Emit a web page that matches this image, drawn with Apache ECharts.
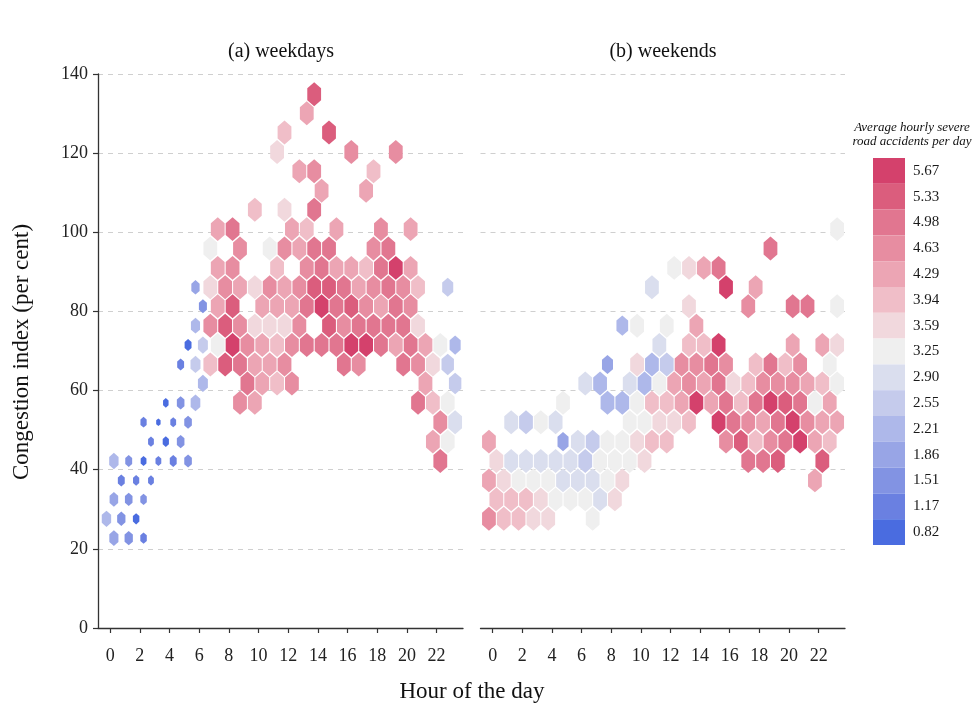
<!DOCTYPE html>
<html>
<head>
<meta charset="utf-8">
<script src="https://cdn.jsdelivr.net/npm/echarts@6/dist/echarts.min.js"></script>
<style>
  html, body { margin: 0; padding: 0; background: #fff; }
  #chart { width: 976px; height: 708px; }
</style>
</head>
<body>
<div id="chart"></div>
<script>
// Hour-of-day tick labels and congestion-index ticks
const hourTicks = [0, 2, 4, 6, 8, 10, 12, 14, 16, 18, 20, 22];
const indexTicks = [0, 20, 40, 60, 80, 100, 120, 140];

// Legend levels (average hourly severe road accidents per day), low to high
const accidentLevels = [0.82, 1.17, 1.51, 1.86, 2.21, 2.55, 2.90, 3.25, 3.59, 3.94, 4.29, 4.63, 4.98, 5.33, 5.67];
const levelColors = ['#4a6ce0', '#6a80e1', '#8293e3', '#98a5e6', '#aeb8ea', '#c5cbec', '#dadeee', '#efefef',
                     '#f1d8dd', '#f0bec8', '#eca5b4', '#e78da1', '#e17690', '#db5d7d', '#d4416c'];

// Vertical spacing of the hexagon rows, in congestion-index units
const rowStep = 4.88;

// Weekday bins: [hour, congestion index, accidents, relative bin size]
const weekdayBins = [
  [0.25, 22.7, 1.86, 0.66], [1.25, 22.7, 1.51, 0.6], [2.25, 22.7, 1.17, 0.47],
  [-0.25, 27.6, 2.21, 0.68], [0.75, 27.6, 1.51, 0.6], [1.75, 27.6, 0.82, 0.47],
  [0.25, 32.5, 1.86, 0.62], [1.25, 32.5, 1.51, 0.55], [2.25, 32.5, 1.51, 0.47],
  [0.75, 37.3, 1.17, 0.5], [1.75, 37.3, 1.17, 0.45], [2.75, 37.3, 1.17, 0.42],
  [0.25, 42.2, 2.21, 0.68], [1.25, 42.2, 1.51, 0.5], [2.25, 42.2, 0.82, 0.42], [3.25, 42.2, 1.17, 0.42],
  [4.25, 42.2, 1.17, 0.5], [5.25, 42.2, 1.51, 0.55], [22.25, 42.2, 4.98, 1],
  [2.75, 47.1, 1.17, 0.42], [3.75, 47.1, 0.82, 0.45], [4.75, 47.1, 1.51, 0.55],
  [21.75, 47.1, 4.29, 1], [22.75, 47.1, 3.25, 1],
  [2.25, 52.0, 1.17, 0.45], [3.25, 52.0, 0.82, 0.32], [4.25, 52.0, 1.17, 0.42], [5.25, 52.0, 1.51, 0.55],
  [22.25, 52.0, 4.63, 1], [23.25, 52.0, 2.90, 1],
  [3.75, 56.9, 0.82, 0.4], [4.75, 56.9, 1.51, 0.55], [5.75, 56.9, 2.21, 0.7],
  [8.75, 56.9, 4.63, 1], [9.75, 56.9, 4.29, 1], [20.75, 56.9, 4.98, 1], [21.75, 56.9, 3.94, 1], [22.75, 56.9, 3.25, 1],
  [6.25, 61.8, 2.21, 0.72], [9.25, 61.8, 4.98, 1], [10.25, 61.8, 4.29, 1], [11.25, 61.8, 3.94, 1],
  [12.25, 61.8, 4.63, 1], [21.25, 61.8, 4.29, 1], [23.25, 61.8, 2.55, 0.9],
  [4.75, 66.6, 1.17, 0.5], [5.75, 66.6, 2.55, 0.72], [6.75, 66.6, 3.94, 1], [7.75, 66.6, 5.33, 1],
  [8.75, 66.6, 4.98, 1], [9.75, 66.6, 4.29, 1], [10.75, 66.6, 4.29, 1], [11.75, 66.6, 4.63, 1],
  [15.75, 66.6, 4.98, 1], [16.75, 66.6, 4.63, 1], [19.75, 66.6, 4.98, 1], [20.75, 66.6, 4.63, 1],
  [21.75, 66.6, 3.59, 1], [22.75, 66.6, 2.55, 0.9],
  [5.25, 71.5, 0.82, 0.5], [6.25, 71.5, 2.55, 0.72], [7.25, 71.5, 3.25, 1], [8.25, 71.5, 5.67, 1],
  [9.25, 71.5, 4.63, 1], [10.25, 71.5, 4.29, 1], [11.25, 71.5, 3.94, 1], [12.25, 71.5, 4.63, 1],
  [13.25, 71.5, 4.98, 1], [14.25, 71.5, 4.98, 1], [15.25, 71.5, 4.98, 1], [16.25, 71.5, 5.67, 1],
  [17.25, 71.5, 5.67, 1], [18.25, 71.5, 4.98, 1], [19.25, 71.5, 4.29, 1], [20.25, 71.5, 4.98, 1],
  [21.25, 71.5, 4.29, 1], [22.25, 71.5, 3.25, 1], [23.25, 71.5, 2.21, 0.8],
  [5.75, 76.4, 2.21, 0.66], [6.75, 76.4, 4.63, 1], [7.75, 76.4, 5.33, 1], [8.75, 76.4, 4.63, 1],
  [9.75, 76.4, 3.59, 1], [10.75, 76.4, 3.59, 1], [11.75, 76.4, 3.59, 1], [12.75, 76.4, 4.63, 1],
  [14.75, 76.4, 5.33, 1], [15.75, 76.4, 4.63, 1], [16.75, 76.4, 4.98, 1], [17.75, 76.4, 4.98, 1],
  [18.75, 76.4, 4.98, 1], [19.75, 76.4, 4.98, 1], [20.75, 76.4, 3.59, 1],
  [6.25, 81.3, 1.51, 0.58], [7.25, 81.3, 4.29, 1], [8.25, 81.3, 5.33, 1], [10.25, 81.3, 4.29, 1],
  [11.25, 81.3, 4.29, 1], [12.25, 81.3, 4.29, 1], [13.25, 81.3, 4.98, 1], [14.25, 81.3, 5.67, 1],
  [15.25, 81.3, 4.98, 1], [16.25, 81.3, 5.33, 1], [17.25, 81.3, 4.63, 1], [18.25, 81.3, 4.29, 1],
  [19.25, 81.3, 4.98, 1], [20.25, 81.3, 4.63, 1],
  [5.75, 86.1, 1.86, 0.6], [6.75, 86.1, 3.59, 1], [7.75, 86.1, 4.63, 1], [8.75, 86.1, 4.29, 1],
  [9.75, 86.1, 3.59, 1], [10.75, 86.1, 4.63, 1], [11.75, 86.1, 4.29, 1], [12.75, 86.1, 4.63, 1],
  [13.75, 86.1, 5.33, 1], [14.75, 86.1, 5.33, 1], [15.75, 86.1, 4.98, 1], [16.75, 86.1, 4.29, 1],
  [17.75, 86.1, 4.63, 1], [18.75, 86.1, 4.98, 1], [19.75, 86.1, 4.63, 1], [20.75, 86.1, 3.94, 1],
  [22.75, 86.1, 2.55, 0.8],
  [7.25, 91.0, 4.29, 1], [8.25, 91.0, 4.63, 1], [11.25, 91.0, 3.94, 1], [13.25, 91.0, 4.63, 1],
  [14.25, 91.0, 4.98, 1], [15.25, 91.0, 4.29, 1], [16.25, 91.0, 4.29, 1], [17.25, 91.0, 3.94, 1],
  [18.25, 91.0, 4.98, 1], [19.25, 91.0, 5.67, 1], [20.25, 91.0, 4.29, 1],
  [6.75, 95.9, 3.25, 1], [8.75, 95.9, 4.63, 1], [10.75, 95.9, 3.25, 1], [11.75, 95.9, 4.63, 1],
  [12.75, 95.9, 4.29, 1], [13.75, 95.9, 4.98, 1], [14.75, 95.9, 4.98, 1], [17.75, 95.9, 4.63, 1],
  [18.75, 95.9, 4.98, 1],
  [7.25, 100.8, 4.29, 1], [8.25, 100.8, 4.98, 1], [12.25, 100.8, 4.29, 1], [13.25, 100.8, 3.94, 1],
  [15.25, 100.8, 4.29, 1], [18.25, 100.8, 4.63, 1], [20.25, 100.8, 4.29, 1],
  [9.75, 105.7, 3.94, 1], [11.75, 105.7, 3.59, 1], [13.75, 105.7, 4.98, 1],
  [14.25, 110.5, 4.29, 1], [17.25, 110.5, 4.29, 1],
  [12.75, 115.4, 4.29, 1], [13.75, 115.4, 4.63, 1], [17.75, 115.4, 3.94, 1],
  [11.25, 120.3, 3.59, 1], [16.25, 120.3, 4.63, 1], [19.25, 120.3, 4.63, 1],
  [11.75, 125.2, 3.94, 1], [14.75, 125.2, 5.33, 1],
  [13.25, 130.1, 4.29, 1],
  [13.75, 134.9, 5.33, 1]
];

// Weekend bins: [hour, congestion index, accidents, relative bin size]
const weekendBins = [
  [-0.25, 27.6, 4.63, 1], [0.75, 27.6, 3.94, 1], [1.75, 27.6, 3.94, 1], [2.75, 27.6, 3.59, 1],
  [3.75, 27.6, 3.59, 1], [6.75, 27.6, 3.25, 1],
  [0.25, 32.5, 3.94, 1], [1.25, 32.5, 3.94, 1], [2.25, 32.5, 3.94, 1], [3.25, 32.5, 3.59, 1],
  [4.25, 32.5, 3.25, 1], [5.25, 32.5, 3.25, 1], [6.25, 32.5, 3.25, 1], [7.25, 32.5, 2.90, 1],
  [8.25, 32.5, 3.59, 1],
  [-0.25, 37.3, 4.29, 1], [0.75, 37.3, 3.59, 1], [1.75, 37.3, 3.25, 1], [2.75, 37.3, 3.25, 1],
  [3.75, 37.3, 3.25, 1], [4.75, 37.3, 2.90, 1], [5.75, 37.3, 2.90, 1], [6.75, 37.3, 2.90, 1],
  [7.75, 37.3, 3.25, 1], [8.75, 37.3, 3.59, 1], [21.75, 37.3, 4.29, 1],
  [0.25, 42.2, 3.59, 1], [1.25, 42.2, 2.90, 1], [2.25, 42.2, 2.90, 1], [3.25, 42.2, 2.90, 1],
  [4.25, 42.2, 2.90, 1], [5.25, 42.2, 2.90, 1], [6.25, 42.2, 2.55, 1], [7.25, 42.2, 3.25, 1],
  [8.25, 42.2, 3.25, 1], [9.25, 42.2, 3.25, 1], [10.25, 42.2, 3.59, 1],
  [17.25, 42.2, 4.98, 1], [18.25, 42.2, 4.98, 1], [19.25, 42.2, 5.33, 1], [22.25, 42.2, 5.33, 1],
  [-0.25, 47.1, 4.29, 1], [4.75, 47.1, 1.86, 0.8], [5.75, 47.1, 2.90, 1], [6.75, 47.1, 2.55, 1],
  [7.75, 47.1, 3.25, 1], [8.75, 47.1, 3.25, 1], [9.75, 47.1, 3.59, 1], [10.75, 47.1, 3.94, 1],
  [11.75, 47.1, 3.94, 1], [15.75, 47.1, 4.63, 1], [16.75, 47.1, 5.33, 1], [17.75, 47.1, 3.94, 1],
  [18.75, 47.1, 4.63, 1], [19.75, 47.1, 4.98, 1], [20.75, 47.1, 5.67, 1], [21.75, 47.1, 4.29, 1],
  [22.75, 47.1, 3.94, 1],
  [1.25, 52.0, 2.90, 1], [2.25, 52.0, 2.55, 1], [3.25, 52.0, 3.25, 1], [4.25, 52.0, 2.90, 1],
  [9.25, 52.0, 3.25, 1], [10.25, 52.0, 3.25, 1], [11.25, 52.0, 3.59, 1], [12.25, 52.0, 3.59, 1],
  [13.25, 52.0, 3.94, 1], [15.25, 52.0, 5.67, 1], [16.25, 52.0, 4.98, 1], [17.25, 52.0, 4.63, 1],
  [18.25, 52.0, 4.29, 1], [19.25, 52.0, 4.98, 1], [20.25, 52.0, 5.67, 1], [21.25, 52.0, 4.63, 1],
  [22.25, 52.0, 4.29, 1], [23.25, 52.0, 4.29, 1],
  [4.75, 56.9, 3.25, 1], [7.75, 56.9, 2.21, 1], [8.75, 56.9, 2.21, 1], [9.75, 56.9, 3.25, 1],
  [10.75, 56.9, 3.94, 1], [11.75, 56.9, 3.94, 1], [12.75, 56.9, 4.29, 1], [13.75, 56.9, 5.67, 1],
  [14.75, 56.9, 4.29, 1], [15.75, 56.9, 4.98, 1], [16.75, 56.9, 3.94, 1], [17.75, 56.9, 4.98, 1],
  [18.75, 56.9, 5.67, 1], [19.75, 56.9, 5.33, 1], [20.75, 56.9, 4.98, 1], [21.75, 56.9, 3.25, 1],
  [22.75, 56.9, 4.29, 1],
  [6.25, 61.8, 2.90, 1], [7.25, 61.8, 2.21, 1], [9.25, 61.8, 2.90, 1], [10.25, 61.8, 2.21, 1],
  [11.25, 61.8, 3.25, 1], [12.25, 61.8, 4.29, 1], [13.25, 61.8, 4.63, 1], [14.25, 61.8, 4.29, 1],
  [15.25, 61.8, 4.98, 1], [16.25, 61.8, 3.59, 1], [17.25, 61.8, 3.94, 1], [18.25, 61.8, 4.63, 1],
  [19.25, 61.8, 4.63, 1], [20.25, 61.8, 4.63, 1], [21.25, 61.8, 4.29, 1], [22.25, 61.8, 3.94, 1],
  [23.25, 61.8, 3.25, 1],
  [7.75, 66.6, 1.86, 0.8], [9.75, 66.6, 3.59, 1], [10.75, 66.6, 2.21, 1], [11.75, 66.6, 2.55, 1],
  [12.75, 66.6, 4.63, 1], [13.75, 66.6, 4.63, 1], [14.75, 66.6, 4.98, 1], [15.75, 66.6, 4.63, 1],
  [17.75, 66.6, 3.94, 1], [18.75, 66.6, 4.98, 1], [19.75, 66.6, 3.94, 1], [20.75, 66.6, 4.63, 1],
  [22.75, 66.6, 3.25, 1],
  [11.25, 71.5, 2.90, 1], [13.25, 71.5, 3.94, 1], [14.25, 71.5, 3.94, 1], [15.25, 71.5, 5.67, 1],
  [20.25, 71.5, 4.29, 1], [22.25, 71.5, 4.29, 1], [23.25, 71.5, 3.59, 1],
  [8.75, 76.4, 2.21, 0.85], [9.75, 76.4, 3.25, 1], [11.75, 76.4, 3.25, 1], [13.75, 76.4, 4.29, 1],
  [13.25, 81.3, 3.59, 1], [17.25, 81.3, 4.63, 1], [20.25, 81.3, 4.98, 1], [21.25, 81.3, 4.98, 1],
  [23.25, 81.3, 3.25, 1],
  [10.75, 86.1, 2.90, 1], [15.75, 86.1, 5.67, 1], [17.75, 86.1, 4.29, 1],
  [12.25, 91.0, 3.25, 1], [13.25, 91.0, 3.59, 1], [14.25, 91.0, 4.29, 1], [15.25, 91.0, 4.98, 1],
  [18.75, 95.9, 4.98, 1],
  [23.25, 100.8, 3.25, 1]
];

const serif = '"Liberation Serif", "Times New Roman", serif';
const axisColor = '#333';

// Pointy-top hexagon, sized from the bin width (1 hour) and the row spacing
function renderHex(params, api) {
  const c = api.coord([api.value(0), api.value(1)]);
  const cell = api.size([1, rowStep]);
  const s = api.value(3) * 0.93;
  const hw = cell[0] / 2 * s;
  const ry = cell[1] / 1.5 * s;
  return {
    type: 'polygon',
    shape: {
      points: [
        [c[0], c[1] - ry], [c[0] + hw, c[1] - ry / 2], [c[0] + hw, c[1] + ry / 2],
        [c[0], c[1] + ry], [c[0] - hw, c[1] + ry / 2], [c[0] - hw, c[1] - ry / 2]
      ]
    },
    style: { fill: api.visual('color') }
  };
}

function makeXAxis(gridIndex) {
  return {
    type: 'value', gridIndex: gridIndex, min: -0.82, max: 23.78,
    axisLine: { show: true, onZero: false, lineStyle: { color: axisColor, width: 1.3 } },
    axisTick: { show: true, customValues: hourTicks, length: 5, lineStyle: { color: axisColor, width: 1.2 } },
    axisLabel: { customValues: hourTicks, fontFamily: serif, fontSize: 18, color: '#222', margin: 19 },
    splitLine: { show: false }
  };
}

function makeYAxis(gridIndex, visible) {
  return {
    type: 'value', gridIndex: gridIndex, min: 0, max: 140, interval: 20,
    axisLine: { show: visible, onZero: false, lineStyle: { color: axisColor, width: 1.3 } },
    axisTick: { show: visible, length: 5, lineStyle: { color: axisColor, width: 1.2 } },
    axisLabel: { show: visible, fontFamily: serif, fontSize: 18, color: '#222', margin: 10 },
    splitLine: { show: true, lineStyle: { color: '#cfcfcf', width: 1, type: [5, 5] } }
  };
}

// Legend pieces: boundaries half-way between neighbouring levels
const legendPieces = accidentLevels.map(function (v, i) {
  const lo = i === 0 ? 0 : (accidentLevels[i - 1] + v) / 2;
  const hi = i === accidentLevels.length - 1 ? 100 : (accidentLevels[i + 1] + v) / 2;
  return { gt: lo, lte: hi, label: v.toFixed(2), color: levelColors[i] };
});

const chart = echarts.init(document.getElementById('chart'), null, { renderer: 'canvas' });

chart.setOption({
  backgroundColor: '#fff',
  animation: false,
  grid: [
    { left: 98, top: 74, width: 365, height: 554 },
    { left: 480.5, top: 74, width: 364.5, height: 554 }
  ],
  xAxis: [makeXAxis(0), makeXAxis(1)],
  yAxis: [makeYAxis(0, true), makeYAxis(1, false)],
  visualMap: {
    type: 'piecewise',
    seriesIndex: [0, 1],
    dimension: 2,
    pieces: legendPieces,
    orient: 'vertical',
    align: 'left',
    left: 858,
    top: 143,
    itemWidth: 32,
    itemHeight: 25.8,
    itemGap: 0,
    itemSymbol: 'rect',
    textGap: 8,
    hoverLink: false,
    selectedMode: false,
    textStyle: { fontFamily: serif, fontSize: 15, color: '#1a1a1a' }
  },
  series: [
    { type: 'custom', name: 'weekdays', xAxisIndex: 0, yAxisIndex: 0, renderItem: renderHex, data: weekdayBins, clip: true },
    { type: 'custom', name: 'weekends', xAxisIndex: 1, yAxisIndex: 1, renderItem: renderHex, data: weekendBins, clip: true }
  ],
  graphic: [
    { type: 'text', x: 281, y: 52, style: { text: '(a) weekdays', fontFamily: serif, fontSize: 20, fill: '#111', align: 'center', verticalAlign: 'middle' } },
    { type: 'text', x: 663, y: 52, style: { text: '(b) weekends', fontFamily: serif, fontSize: 20, fill: '#111', align: 'center', verticalAlign: 'middle' } },
    { type: 'text', x: 472, y: 692, style: { text: 'Hour of the day', fontFamily: serif, fontSize: 23, fill: '#111', align: 'center', verticalAlign: 'middle' } },
    { type: 'text', x: 22, y: 352, rotation: Math.PI / 2, style: { text: 'Congestion index (per cent)', fontFamily: serif, fontSize: 23, fill: '#111', align: 'center', verticalAlign: 'middle' } },
    { type: 'text', x: 912, y: 128, style: { text: 'Average hourly severe', fontFamily: serif, fontStyle: 'italic', fontSize: 13, fill: '#111', align: 'center', verticalAlign: 'middle' } },
    { type: 'text', x: 912, y: 142, style: { text: 'road accidents per day', fontFamily: serif, fontStyle: 'italic', fontSize: 13, fill: '#111', align: 'center', verticalAlign: 'middle' } }
  ]
});
</script>
</body>
</html>
